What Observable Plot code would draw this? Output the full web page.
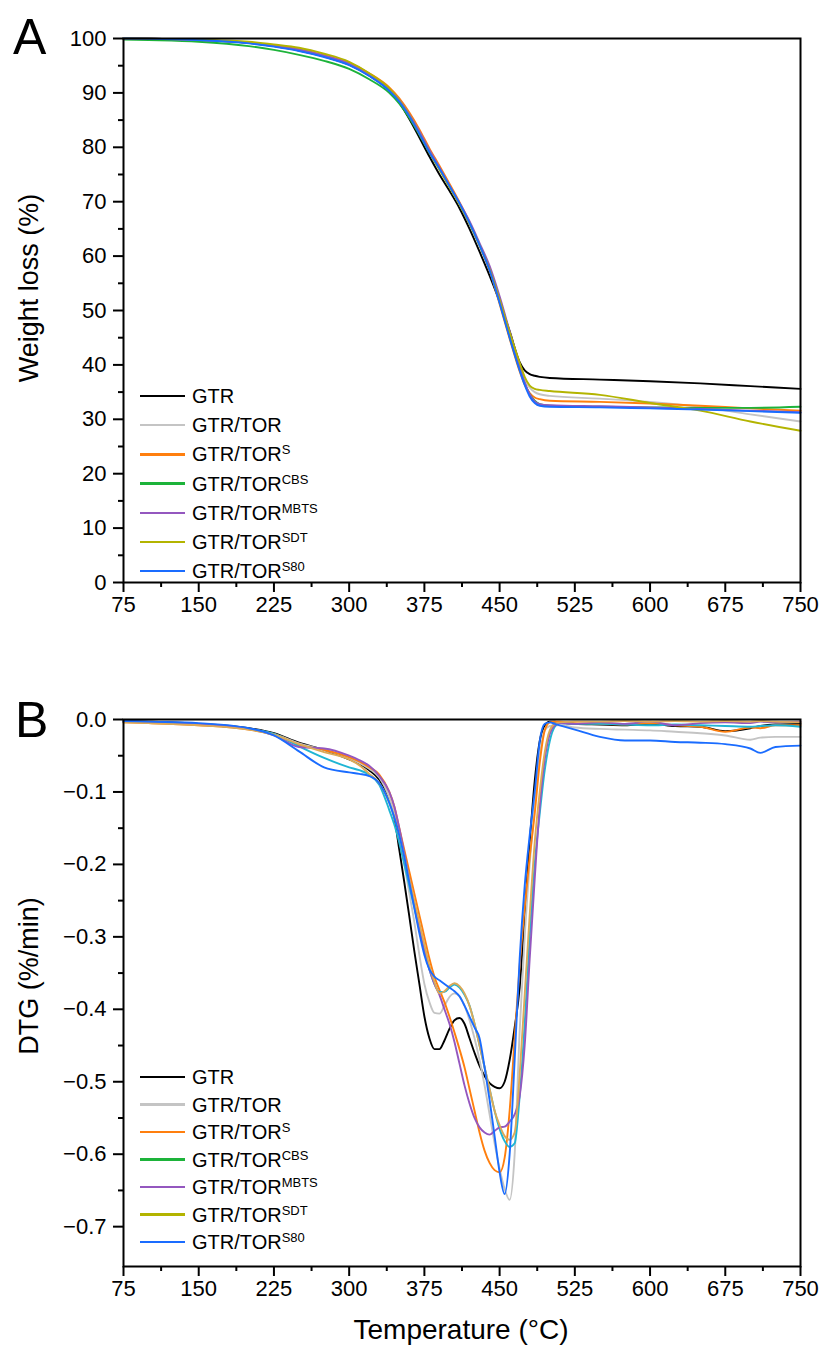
<!DOCTYPE html>
<html><head><meta charset="utf-8">
<script src="https://cdn.jsdelivr.net/npm/d3@7"></script>
<script src="https://cdn.jsdelivr.net/npm/@observablehq/plot@0.6"></script>
<style>
body{margin:0;background:#fff;}
#wrap{position:relative;width:822px;height:1354px;font-family:"Liberation Sans",Arial,sans-serif;color:#000;overflow:hidden;background:#fff}
.abs{position:absolute;white-space:nowrap}
.panel{position:absolute;left:0}
.leg{position:absolute;display:flex;align-items:center;height:20px;font-size:20px;line-height:20px;white-space:nowrap}
.leg .sw{display:inline-block;width:45px;height:2.5px;margin-right:7px}
.leg sup{font-size:13px;vertical-align:7px;line-height:0}
.ytitle{position:absolute;white-space:nowrap;font-size:27px;line-height:27px;transform:translate(-50%,-50%) rotate(-90deg)}
</style></head><body><div id="wrap"></div>
<script>
// ---------- Panel A: TGA (weight %) ----------
const temps_A = [75,100,150,200,225, 250,275,300,320,340, 350,360,370,380,390, 400,410,420,430,440, 450,460,470,475,480, 485,490,500,550,600, 650,700,750];
const weight_GTR  = [100,99.95,99.7,99.2,98.6, 97.8,96.7,95.2,93.2,90.4, 88.2,85.2,81.8,78.3,75.0, 72.0,68.8,65.0,60.8,56.4, 51.6,46.2,40.5,39.0,38.3, 38.0,37.8,37.6,37.3,37.0, 36.6,36.1,35.6];
const weight_TOR  = [100,99.95,99.7,99.2,98.7, 98.0,96.9,95.4,93.4,90.7, 88.6,85.9,82.7,79.3,76.0, 72.8,69.6,66.0,62.0,57.6, 51.8,45.6,39.8,37.3,35.8, 35.0,34.6,34.3,33.8,33.2, 32.3,30.9,29.6];
const weight_S    = [100,99.95,99.7,99.2,98.7, 98.0,96.9,95.5,93.6,91.0, 89.0,86.4,83.3,79.8,76.6, 73.3,69.9,66.2,62.0,57.4, 51.2,44.8,38.8,36.4,34.8, 34.0,33.7,33.4,33.2,32.9, 32.5,32.0,31.6];
const weight_CBS  = [99.8,99.7,99.4,98.6,97.9, 97.0,95.9,94.4,92.5,90.0, 88.0,85.4,82.3,79.0,76.0, 72.8,69.6,66.0,62.0,57.6, 51.6,45.2,39.2,36.6,34.6, 33.4,32.8,32.5,32.3,32.2, 32.1,32.1,32.3];
const weight_MBTS = [100,99.95,99.7,99.2,98.7, 98.0,96.9,95.4,93.4,90.7, 88.7,86.0,82.9,79.5,76.3, 73.0,69.8,66.4,62.4,58.2, 52.6,46.2,39.8,36.8,34.6, 33.3,32.8,32.6,32.4,32.2, 31.9,31.6,31.3];
const weight_SDT  = [100,99.95,99.8,99.4,98.9, 98.3,97.2,95.7,93.6,90.8, 88.6,85.8,82.5,79.1,75.9, 72.7,69.5,66.0,62.0,57.6, 52.0,46.0,40.4,37.8,36.2, 35.6,35.4,35.2,34.5,33.0, 31.6,29.6,27.9];
const weight_S80  = [100,99.95,99.7,99.1,98.5, 97.7,96.6,95.1,93.1,90.4, 88.4,85.7,82.5,79.1,76.1, 72.9,69.7,66.1,62.0,57.4, 51.4,45.0,39.0,36.3,34.2, 33.0,32.5,32.3,32.2,32.0, 31.8,31.5,31.2];

// ---------- Panel B: DTG ----------
const temps_B = [75,100,150,200,225, 250,275,300,310,320, 330,340,345,350,355, 360,365,370,375,380, 385,390,395,400,405, 410,415,420,425,430, 435,440,445,450,455, 460,465,470,475,480, 485,490,495,500,505, 510,525,550,575,600, 625,650,675,700,710, 725,750];
const dtg_GTR = [-0.002,-0.003,-0.006,-0.012,-0.019, -0.032,-0.042,-0.055,-0.061,-0.07, -0.083,-0.11,-0.135,-0.18,-0.225, -0.272,-0.32,-0.365,-0.41,-0.44, -0.455,-0.455,-0.443,-0.427,-0.415, -0.412,-0.42,-0.44,-0.46,-0.478, -0.492,-0.502,-0.507,-0.509,-0.5, -0.47,-0.425,-0.37,-0.27,-0.17, -0.085,-0.03,-0.008,-0.003,-0.003, -0.004,-0.006,-0.007,-0.008,-0.006, -0.009,-0.01,-0.016,-0.012,-0.009, -0.007,-0.006];
const dtg_TOR = [-0.003,-0.004,-0.007,-0.013,-0.02, -0.033,-0.042,-0.053,-0.06,-0.068, -0.08,-0.108,-0.13,-0.16,-0.2, -0.24,-0.28,-0.325,-0.365,-0.39, -0.405,-0.406,-0.395,-0.383,-0.378, -0.382,-0.395,-0.415,-0.44,-0.47, -0.505,-0.545,-0.585,-0.62,-0.648, -0.663,-0.6,-0.43,-0.3,-0.2, -0.12,-0.05,-0.015,-0.009,-0.008, -0.008,-0.011,-0.013,-0.014,-0.015, -0.017,-0.019,-0.022,-0.028,-0.025, -0.024,-0.024];
const dtg_S = [-0.004,-0.005,-0.008,-0.014,-0.021, -0.035,-0.042,-0.052,-0.058,-0.066, -0.076,-0.1,-0.12,-0.15,-0.18, -0.21,-0.24,-0.27,-0.3,-0.33, -0.355,-0.373,-0.39,-0.41,-0.432, -0.455,-0.48,-0.51,-0.54,-0.57, -0.595,-0.612,-0.622,-0.625,-0.605, -0.54,-0.44,-0.34,-0.26,-0.19, -0.13,-0.06,-0.015,-0.004,-0.003, -0.003,-0.005,-0.006,-0.007,-0.005, -0.008,-0.01,-0.017,-0.011,-0.012, -0.008,-0.008];
const dtg_CBS = [-0.003,-0.004,-0.007,-0.013,-0.02, -0.037,-0.053,-0.066,-0.07,-0.076, -0.09,-0.125,-0.145,-0.17,-0.2, -0.23,-0.26,-0.29,-0.32,-0.345, -0.365,-0.376,-0.376,-0.37,-0.366, -0.37,-0.38,-0.395,-0.42,-0.45, -0.48,-0.51,-0.54,-0.565,-0.582, -0.59,-0.585,-0.52,-0.42,-0.3, -0.2,-0.13,-0.07,-0.03,-0.01, -0.005,-0.006,-0.006,-0.007,-0.008, -0.007,-0.008,-0.009,-0.01,-0.009, -0.008,-0.01];
const dtg_MBTS = [-0.003,-0.004,-0.007,-0.013,-0.022, -0.038,-0.04,-0.05,-0.056,-0.064, -0.078,-0.1,-0.12,-0.15,-0.185, -0.22,-0.255,-0.29,-0.32,-0.345, -0.365,-0.38,-0.4,-0.42,-0.445, -0.475,-0.505,-0.53,-0.55,-0.563, -0.57,-0.573,-0.568,-0.563,-0.562, -0.555,-0.545,-0.52,-0.45,-0.33, -0.22,-0.12,-0.055,-0.02,-0.008, -0.005,-0.006,-0.004,-0.006,-0.003, -0.008,-0.005,-0.004,-0.005,-0.003, -0.004,-0.003];
const dtg_SDT = [-0.004,-0.005,-0.008,-0.014,-0.021, -0.034,-0.045,-0.055,-0.063,-0.075, -0.088,-0.115,-0.135,-0.16,-0.19, -0.22,-0.25,-0.28,-0.31,-0.34, -0.362,-0.378,-0.375,-0.368,-0.364, -0.368,-0.378,-0.395,-0.42,-0.45, -0.48,-0.51,-0.54,-0.56,-0.575, -0.58,-0.57,-0.49,-0.38,-0.27, -0.17,-0.1,-0.045,-0.015,-0.006, -0.004,-0.003,-0.003,-0.002,-0.003, -0.002,-0.003,-0.002,-0.003,-0.002, -0.003,-0.004];
const dtg_S80 = [-0.002,-0.003,-0.005,-0.012,-0.022, -0.044,-0.066,-0.073,-0.075,-0.078, -0.088,-0.115,-0.135,-0.16,-0.19, -0.225,-0.26,-0.295,-0.325,-0.345, -0.355,-0.36,-0.365,-0.37,-0.375, -0.382,-0.395,-0.41,-0.425,-0.44, -0.48,-0.525,-0.575,-0.625,-0.655, -0.6,-0.47,-0.33,-0.23,-0.16, -0.1,-0.03,-0.006,-0.004,-0.006, -0.008,-0.014,-0.024,-0.029,-0.029, -0.031,-0.032,-0.034,-0.04,-0.046, -0.038,-0.036];

// ---------- series, colours, ticks ----------
const seriesNames = ["GTR","GTR/TOR","GTR/TOR","GTR/TOR","GTR/TOR","GTR/TOR","GTR/TOR"];
const seriesSup   = ["","","S","CBS","MBTS","SDT","S80"];
const colorsA = ["#000000","#c4c4c4","#ff7f0e","#1db33a","#9457bf","#b3b400","#1a6cff"];
const colorsB = ["#000000","#c4c4c4","#ff7f0e","#1fb5d4","#9457bf","#dcaa58","#1a6cff"];
const legendColors = colorsA;
const xTicks = [75,150,225,300,375,450,525,600,675,750];
const xMinor = [112.5,187.5,262.5,337.5,412.5,487.5,562.5,637.5,712.5];
const yTicksA = [0,10,20,30,40,50,60,70,80,90,100];
const yMinorA = [5,15,25,35,45,55,65,75,85,95];
const yTicksB = [0,-0.1,-0.2,-0.3,-0.4,-0.5,-0.6,-0.7];
const yMinorB = [-0.05,-0.15,-0.25,-0.35,-0.45,-0.55,-0.65];

const seriesA = [weight_GTR,weight_TOR,weight_S,weight_CBS,weight_MBTS,weight_SDT,weight_S80];
const seriesB = [dtg_GTR,dtg_TOR,dtg_S,dtg_CBS,dtg_MBTS,dtg_SDT,dtg_S80];

function rows(temps, vals){ return temps.map((t,i)=>({t, v: vals[i]})); }

const style = {fontFamily:'"Liberation Sans", Arial, sans-serif', fontSize:"22px", color:"black", background:"white", overflow:"visible"};

function panel(temps, seriesVals, colors, yDomain, yTicks, yMinor, yFmt, height, mt, mb){
  return Plot.plot({
    width: 822, height, marginLeft: 123, marginRight: 22, marginTop: mt, marginBottom: mb,
    style,
    x: {domain: [75, 750]},
    y: {domain: yDomain},
    marks: [
      ...seriesVals.map((vals,i)=>Plot.line(rows(temps, vals), {x:"t", y:"v", stroke: colors[i], strokeWidth: 1.9, curve:"monotone-x"})),
      Plot.frame({stroke:"black", strokeWidth: 2}),
      Plot.axisX(xTicks, {tickSize: 10, tickPadding: 4, strokeWidth: 2, label: null}),
      Plot.axisX(xMinor, {tickSize: 5, strokeWidth: 2, fill: "none", label: null}),
      Plot.axisY(yTicks, {tickSize: 10, tickPadding: 7, strokeWidth: 2, tickFormat: yFmt, label: null}),
      Plot.axisY(yMinor, {tickSize: 5, strokeWidth: 2, fill: "none", label: null})
    ]
  });
}

const wrap = document.getElementById("wrap");

const plotA = panel(temps_A, seriesA, colorsA, [0,100], yTicksA, yMinorA, d=>String(d), 660, 38, 78);
plotA.classList.add("panel"); plotA.style.top = "0px"; plotA.style.position = "absolute";
wrap.appendChild(plotA);

const fmtB = d => d === 0 ? "0.0" : "\u2212" + Math.abs(d).toFixed(1);
const plotB = panel(temps_B, seriesB, colorsB, [-0.755,0], yTicksB, yMinorB, fmtB, 694, 59, 88);
plotB.classList.add("panel"); plotB.style.top = "660px"; plotB.style.position = "absolute";
wrap.appendChild(plotB);

function addText(html, css){ const d=document.createElement("div"); d.className="abs"; d.innerHTML=html; Object.assign(d.style, css); wrap.appendChild(d); return d; }

addText("A", {left:"13px", top:"12px", fontSize:"50px", lineHeight:"50px"});
addText("B", {left:"15px", top:"695px", fontSize:"50px", lineHeight:"50px"});
addText("Temperature (°C)", {left:"461px", top:"1316px", fontSize:"28px", lineHeight:"28px", transform:"translateX(-50%)"});

const tA = document.createElement("div"); tA.className="ytitle"; tA.textContent="Weight loss (%)"; tA.style.left="29px"; tA.style.top="288px"; wrap.appendChild(tA);
const tB = document.createElement("div"); tB.className="ytitle"; tB.textContent="DTG (%/min)"; tB.style.left="29px"; tB.style.top="976px"; wrap.appendChild(tB);

function legend(y0, step){
  seriesNames.forEach((n,i)=>{
    const r=document.createElement("div"); r.className="leg";
    r.style.left="140px"; r.style.top=(y0 + i*step - 10)+"px";
    r.innerHTML = `<span class="sw" style="background:${legendColors[i]}"></span><span>${n}${seriesSup[i]?`<sup>${seriesSup[i]}</sup>`:""}</span>`;
    wrap.appendChild(r);
  });
}
legend(396, 29.2);
legend(1077, 27.5);
</script></body></html>
